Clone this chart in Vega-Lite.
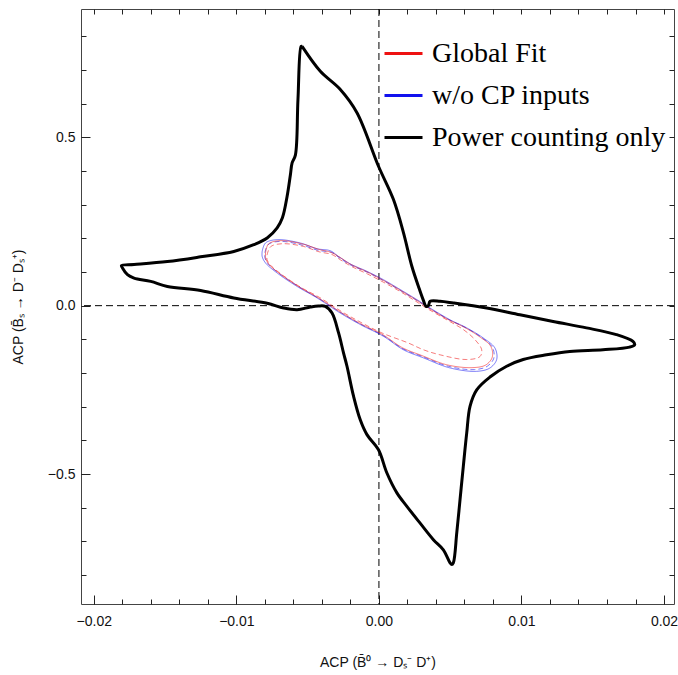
{
  "$schema": "https://vega.github.io/schema/vega-lite/v6.json",
  "width": 593,
  "height": 595,
  "autosize": {"type": "none"},
  "padding": {"left": 81, "top": 9, "right": 4, "bottom": 71},
  "background": "white",
  "config": {
    "view": {"stroke": "#444444", "strokeWidth": 1},
    "axis": {"grid": false, "domain": false, "tickColor": "#222222", "labelFont": "Liberation Sans", "labelFontSize": 14, "labelColor": "#111111", "titleFont": "Liberation Sans", "titleFontSize": 14, "titleFontWeight": "normal", "titleColor": "#111111"}
  },
  "datasets": {
    "pc": [
      {"i":1,"x":-0.00539,"y":0.770,"g":"Power counting only"},
      {"i":2,"x":-0.00411,"y":0.696,"g":"Power counting only"},
      {"i":3,"x":-0.00271,"y":0.642,"g":"Power counting only"},
      {"i":4,"x":-0.00154,"y":0.573,"g":"Power counting only"},
      {"i":5,"x":-0.00003,"y":0.414,"g":"Power counting only"},
      {"i":6,"x":0.00102,"y":0.315,"g":"Power counting only"},
      {"i":7,"x":0.00172,"y":0.217,"g":"Power counting only"},
      {"i":8,"x":0.00231,"y":0.117,"g":"Power counting only"},
      {"i":9,"x":0.00283,"y":0.050,"g":"Power counting only"},
      {"i":10,"x":0.00310,"y":0.018,"g":"Power counting only"},
      {"i":11,"x":0.00331,"y":-0.002,"g":"Power counting only"},
      {"i":12,"x":0.00347,"y":0.000,"g":"Power counting only"},
      {"i":13,"x":0.00359,"y":0.013,"g":"Power counting only"},
      {"i":14,"x":0.00429,"y":0.013,"g":"Power counting only"},
      {"i":15,"x":0.00522,"y":0.008,"g":"Power counting only"},
      {"i":16,"x":0.00756,"y":-0.007,"g":"Power counting only"},
      {"i":17,"x":0.00989,"y":-0.027,"g":"Power counting only"},
      {"i":18,"x":0.01222,"y":-0.047,"g":"Power counting only"},
      {"i":19,"x":0.01456,"y":-0.066,"g":"Power counting only"},
      {"i":20,"x":0.01666,"y":-0.086,"g":"Power counting only"},
      {"i":21,"x":0.01782,"y":-0.106,"g":"Power counting only"},
      {"i":22,"x":0.01794,"y":-0.116,"g":"Power counting only"},
      {"i":23,"x":0.01759,"y":-0.123,"g":"Power counting only"},
      {"i":24,"x":0.01572,"y":-0.131,"g":"Power counting only"},
      {"i":25,"x":0.01339,"y":-0.136,"g":"Power counting only"},
      {"i":26,"x":0.01176,"y":-0.146,"g":"Power counting only"},
      {"i":27,"x":0.01012,"y":-0.160,"g":"Power counting only"},
      {"i":28,"x":0.00896,"y":-0.180,"g":"Power counting only"},
      {"i":29,"x":0.00779,"y":-0.212,"g":"Power counting only"},
      {"i":30,"x":0.00686,"y":-0.250,"g":"Power counting only"},
      {"i":31,"x":0.00639,"y":-0.299,"g":"Power counting only"},
      {"i":32,"x":0.00616,"y":-0.378,"g":"Power counting only"},
      {"i":33,"x":0.00592,"y":-0.477,"g":"Power counting only"},
      {"i":34,"x":0.00569,"y":-0.576,"g":"Power counting only"},
      {"i":35,"x":0.00546,"y":-0.675,"g":"Power counting only"},
      {"i":36,"x":0.00522,"y":-0.764,"g":"Power counting only"},
      {"i":37,"x":0.00511,"y":-0.769,"g":"Power counting only"},
      {"i":38,"x":0.00499,"y":-0.764,"g":"Power counting only"},
      {"i":39,"x":0.00452,"y":-0.725,"g":"Power counting only"},
      {"i":40,"x":0.00382,"y":-0.695,"g":"Power counting only"},
      {"i":41,"x":0.00289,"y":-0.646,"g":"Power counting only"},
      {"i":42,"x":0.00196,"y":-0.596,"g":"Power counting only"},
      {"i":43,"x":0.00126,"y":-0.556,"g":"Power counting only"},
      {"i":44,"x":0.00056,"y":-0.497,"g":"Power counting only"},
      {"i":45,"x":-0.00003,"y":-0.428,"g":"Power counting only"},
      {"i":46,"x":-0.00084,"y":-0.383,"g":"Power counting only"},
      {"i":47,"x":-0.00131,"y":-0.339,"g":"Power counting only"},
      {"i":48,"x":-0.00178,"y":-0.269,"g":"Power counting only"},
      {"i":49,"x":-0.00224,"y":-0.180,"g":"Power counting only"},
      {"i":50,"x":-0.00248,"y":-0.141,"g":"Power counting only"},
      {"i":51,"x":-0.00283,"y":-0.081,"g":"Power counting only"},
      {"i":52,"x":-0.00329,"y":-0.022,"g":"Power counting only"},
      {"i":53,"x":-0.00376,"y":-0.002,"g":"Power counting only"},
      {"i":54,"x":-0.00425,"y":-0.001,"g":"Power counting only"},
      {"i":55,"x":-0.00481,"y":-0.004,"g":"Power counting only"},
      {"i":56,"x":-0.00574,"y":-0.012,"g":"Power counting only"},
      {"i":57,"x":-0.00668,"y":-0.007,"g":"Power counting only"},
      {"i":58,"x":-0.00784,"y":0.007,"g":"Power counting only"},
      {"i":59,"x":-0.01018,"y":0.023,"g":"Power counting only"},
      {"i":60,"x":-0.01251,"y":0.045,"g":"Power counting only"},
      {"i":61,"x":-0.01484,"y":0.057,"g":"Power counting only"},
      {"i":62,"x":-0.01601,"y":0.072,"g":"Power counting only"},
      {"i":63,"x":-0.01718,"y":0.082,"g":"Power counting only"},
      {"i":64,"x":-0.01764,"y":0.092,"g":"Power counting only"},
      {"i":65,"x":-0.01799,"y":0.112,"g":"Power counting only"},
      {"i":66,"x":-0.01806,"y":0.119,"g":"Power counting only"},
      {"i":67,"x":-0.01718,"y":0.122,"g":"Power counting only"},
      {"i":68,"x":-0.01484,"y":0.131,"g":"Power counting only"},
      {"i":69,"x":-0.01251,"y":0.145,"g":"Power counting only"},
      {"i":70,"x":-0.01018,"y":0.161,"g":"Power counting only"},
      {"i":71,"x":-0.00878,"y":0.181,"g":"Power counting only"},
      {"i":72,"x":-0.00784,"y":0.201,"g":"Power counting only"},
      {"i":73,"x":-0.00714,"y":0.231,"g":"Power counting only"},
      {"i":74,"x":-0.00677,"y":0.261,"g":"Power counting only"},
      {"i":75,"x":-0.00644,"y":0.325,"g":"Power counting only"},
      {"i":76,"x":-0.00621,"y":0.389,"g":"Power counting only"},
      {"i":77,"x":-0.00609,"y":0.424,"g":"Power counting only"},
      {"i":78,"x":-0.00586,"y":0.447,"g":"Power counting only"},
      {"i":79,"x":-0.00568,"y":0.612,"g":"Power counting only"},
      {"i":80,"x":-0.00546,"y":0.770,"g":"Power counting only"},
      {"i":81,"x":-0.00539,"y":0.770,"g":"Power counting only"}
    ],
    "ell": [
      {"s":"ws","g":"w/o CP inputs","d":"solid","i":1,"x":-0.00819,"y":0.161},
      {"s":"ws","g":"w/o CP inputs","d":"solid","i":2,"x":-0.00796,"y":0.186},
      {"s":"ws","g":"w/o CP inputs","d":"solid","i":3,"x":-0.00714,"y":0.196},
      {"s":"ws","g":"w/o CP inputs","d":"solid","i":4,"x":-0.00551,"y":0.186},
      {"s":"ws","g":"w/o CP inputs","d":"solid","i":5,"x":-0.00434,"y":0.169},
      {"s":"ws","g":"w/o CP inputs","d":"solid","i":6,"x":-0.00341,"y":0.163},
      {"s":"ws","g":"w/o CP inputs","d":"solid","i":7,"x":-0.00283,"y":0.146},
      {"s":"ws","g":"w/o CP inputs","d":"solid","i":8,"x":-0.00201,"y":0.124},
      {"s":"ws","g":"w/o CP inputs","d":"solid","i":9,"x":-0.00084,"y":0.102},
      {"s":"ws","g":"w/o CP inputs","d":"solid","i":10,"x":0.00032,"y":0.077},
      {"s":"ws","g":"w/o CP inputs","d":"solid","i":11,"x":0.00149,"y":0.048},
      {"s":"ws","g":"w/o CP inputs","d":"solid","i":12,"x":0.00266,"y":0.018},
      {"s":"ws","g":"w/o CP inputs","d":"solid","i":13,"x":0.00359,"y":-0.007},
      {"s":"ws","g":"w/o CP inputs","d":"solid","i":14,"x":0.00499,"y":-0.042},
      {"s":"ws","g":"w/o CP inputs","d":"solid","i":15,"x":0.00616,"y":-0.066},
      {"s":"ws","g":"w/o CP inputs","d":"solid","i":16,"x":0.00732,"y":-0.096},
      {"s":"ws","g":"w/o CP inputs","d":"solid","i":17,"x":0.00814,"y":-0.126},
      {"s":"ws","g":"w/o CP inputs","d":"solid","i":18,"x":0.00826,"y":-0.160},
      {"s":"ws","g":"w/o CP inputs","d":"solid","i":19,"x":0.00779,"y":-0.185},
      {"s":"ws","g":"w/o CP inputs","d":"solid","i":20,"x":0.00686,"y":-0.195},
      {"s":"ws","g":"w/o CP inputs","d":"solid","i":21,"x":0.00499,"y":-0.185},
      {"s":"ws","g":"w/o CP inputs","d":"solid","i":22,"x":0.00312,"y":-0.155},
      {"s":"ws","g":"w/o CP inputs","d":"solid","i":23,"x":0.00172,"y":-0.131},
      {"s":"ws","g":"w/o CP inputs","d":"solid","i":24,"x":0.00032,"y":-0.091},
      {"s":"ws","g":"w/o CP inputs","d":"solid","i":25,"x":-0.00131,"y":-0.056},
      {"s":"ws","g":"w/o CP inputs","d":"solid","i":26,"x":-0.00271,"y":-0.022},
      {"s":"ws","g":"w/o CP inputs","d":"solid","i":27,"x":-0.00434,"y":0.023},
      {"s":"ws","g":"w/o CP inputs","d":"solid","i":28,"x":-0.00574,"y":0.057},
      {"s":"ws","g":"w/o CP inputs","d":"solid","i":29,"x":-0.00714,"y":0.097},
      {"s":"ws","g":"w/o CP inputs","d":"solid","i":30,"x":-0.00796,"y":0.127},
      {"s":"ws","g":"w/o CP inputs","d":"solid","i":31,"x":-0.00819,"y":0.146},
      {"s":"ws","g":"w/o CP inputs","d":"solid","i":32,"x":-0.00819,"y":0.161},
      {"s":"wd","g":"w/o CP inputs","d":"dashed","i":1,"x":-0.00800,"y":0.157},
      {"s":"wd","g":"w/o CP inputs","d":"dashed","i":2,"x":-0.00778,"y":0.181},
      {"s":"wd","g":"w/o CP inputs","d":"dashed","i":3,"x":-0.00697,"y":0.191},
      {"s":"wd","g":"w/o CP inputs","d":"dashed","i":4,"x":-0.00540,"y":0.180},
      {"s":"wd","g":"w/o CP inputs","d":"dashed","i":5,"x":-0.00425,"y":0.164},
      {"s":"wd","g":"w/o CP inputs","d":"dashed","i":6,"x":-0.00330,"y":0.158},
      {"s":"wd","g":"w/o CP inputs","d":"dashed","i":7,"x":-0.00275,"y":0.141},
      {"s":"wd","g":"w/o CP inputs","d":"dashed","i":8,"x":-0.00195,"y":0.120},
      {"s":"wd","g":"w/o CP inputs","d":"dashed","i":9,"x":-0.00080,"y":0.099},
      {"s":"wd","g":"w/o CP inputs","d":"dashed","i":10,"x":0.00033,"y":0.074},
      {"s":"wd","g":"w/o CP inputs","d":"dashed","i":11,"x":0.00146,"y":0.046},
      {"s":"wd","g":"w/o CP inputs","d":"dashed","i":12,"x":0.00260,"y":0.017},
      {"s":"wd","g":"w/o CP inputs","d":"dashed","i":13,"x":0.00352,"y":-0.007},
      {"s":"wd","g":"w/o CP inputs","d":"dashed","i":14,"x":0.00488,"y":-0.041},
      {"s":"wd","g":"w/o CP inputs","d":"dashed","i":15,"x":0.00602,"y":-0.064},
      {"s":"wd","g":"w/o CP inputs","d":"dashed","i":16,"x":0.00715,"y":-0.093},
      {"s":"wd","g":"w/o CP inputs","d":"dashed","i":17,"x":0.00795,"y":-0.123},
      {"s":"wd","g":"w/o CP inputs","d":"dashed","i":18,"x":0.00806,"y":-0.156},
      {"s":"wd","g":"w/o CP inputs","d":"dashed","i":19,"x":0.00760,"y":-0.180},
      {"s":"wd","g":"w/o CP inputs","d":"dashed","i":20,"x":0.00670,"y":-0.190},
      {"s":"wd","g":"w/o CP inputs","d":"dashed","i":21,"x":0.00487,"y":-0.180},
      {"s":"wd","g":"w/o CP inputs","d":"dashed","i":22,"x":0.00305,"y":-0.151},
      {"s":"wd","g":"w/o CP inputs","d":"dashed","i":23,"x":0.00168,"y":-0.128},
      {"s":"wd","g":"w/o CP inputs","d":"dashed","i":24,"x":0.00031,"y":-0.089},
      {"s":"wd","g":"w/o CP inputs","d":"dashed","i":25,"x":-0.00128,"y":-0.055},
      {"s":"wd","g":"w/o CP inputs","d":"dashed","i":26,"x":-0.00265,"y":-0.021},
      {"s":"wd","g":"w/o CP inputs","d":"dashed","i":27,"x":-0.00424,"y":0.022},
      {"s":"wd","g":"w/o CP inputs","d":"dashed","i":28,"x":-0.00560,"y":0.056},
      {"s":"wd","g":"w/o CP inputs","d":"dashed","i":29,"x":-0.00697,"y":0.095},
      {"s":"wd","g":"w/o CP inputs","d":"dashed","i":30,"x":-0.00777,"y":0.124},
      {"s":"wd","g":"w/o CP inputs","d":"dashed","i":31,"x":-0.00800,"y":0.142},
      {"s":"wd","g":"w/o CP inputs","d":"dashed","i":32,"x":-0.00800,"y":0.157},
      {"s":"gs","g":"Global Fit","d":"solid","i":1,"x":-0.00795,"y":0.158},
      {"s":"gs","g":"Global Fit","d":"solid","i":2,"x":-0.00775,"y":0.183},
      {"s":"gs","g":"Global Fit","d":"solid","i":3,"x":-0.00695,"y":0.193},
      {"s":"gs","g":"Global Fit","d":"solid","i":4,"x":-0.00535,"y":0.183},
      {"s":"gs","g":"Global Fit","d":"solid","i":5,"x":-0.00420,"y":0.167},
      {"s":"gs","g":"Global Fit","d":"solid","i":6,"x":-0.00335,"y":0.158},
      {"s":"gs","g":"Global Fit","d":"solid","i":7,"x":-0.00272,"y":0.143},
      {"s":"gs","g":"Global Fit","d":"solid","i":8,"x":-0.00195,"y":0.122},
      {"s":"gs","g":"Global Fit","d":"solid","i":9,"x":-0.00082,"y":0.100},
      {"s":"gs","g":"Global Fit","d":"solid","i":10,"x":0.00031,"y":0.075},
      {"s":"gs","g":"Global Fit","d":"solid","i":11,"x":0.00145,"y":0.047},
      {"s":"gs","g":"Global Fit","d":"solid","i":12,"x":0.00258,"y":0.018},
      {"s":"gs","g":"Global Fit","d":"solid","i":13,"x":0.00349,"y":-0.007},
      {"s":"gs","g":"Global Fit","d":"solid","i":14,"x":0.00485,"y":-0.041},
      {"s":"gs","g":"Global Fit","d":"solid","i":15,"x":0.00598,"y":-0.064},
      {"s":"gs","g":"Global Fit","d":"solid","i":16,"x":0.00705,"y":-0.092},
      {"s":"gs","g":"Global Fit","d":"solid","i":17,"x":0.00785,"y":-0.121},
      {"s":"gs","g":"Global Fit","d":"solid","i":18,"x":0.00795,"y":-0.153},
      {"s":"gs","g":"Global Fit","d":"solid","i":19,"x":0.00750,"y":-0.176},
      {"s":"gs","g":"Global Fit","d":"solid","i":20,"x":0.00660,"y":-0.184},
      {"s":"gs","g":"Global Fit","d":"solid","i":21,"x":0.00480,"y":-0.176},
      {"s":"gs","g":"Global Fit","d":"solid","i":22,"x":0.00300,"y":-0.148},
      {"s":"gs","g":"Global Fit","d":"solid","i":23,"x":0.00165,"y":-0.125},
      {"s":"gs","g":"Global Fit","d":"solid","i":24,"x":0.00030,"y":-0.087},
      {"s":"gs","g":"Global Fit","d":"solid","i":25,"x":-0.00127,"y":-0.054},
      {"s":"gs","g":"Global Fit","d":"solid","i":26,"x":-0.00263,"y":-0.021},
      {"s":"gs","g":"Global Fit","d":"solid","i":27,"x":-0.00421,"y":0.022},
      {"s":"gs","g":"Global Fit","d":"solid","i":28,"x":-0.00557,"y":0.055},
      {"s":"gs","g":"Global Fit","d":"solid","i":29,"x":-0.00693,"y":0.094},
      {"s":"gs","g":"Global Fit","d":"solid","i":30,"x":-0.00772,"y":0.123},
      {"s":"gs","g":"Global Fit","d":"solid","i":31,"x":-0.00795,"y":0.142},
      {"s":"gs","g":"Global Fit","d":"solid","i":32,"x":-0.00795,"y":0.158},
      {"s":"gd","g":"Global Fit","d":"dashed","i":1,"x":-0.00785,"y":0.150},
      {"s":"gd","g":"Global Fit","d":"dashed","i":2,"x":-0.00760,"y":0.175},
      {"s":"gd","g":"Global Fit","d":"dashed","i":3,"x":-0.00680,"y":0.184},
      {"s":"gd","g":"Global Fit","d":"dashed","i":4,"x":-0.00530,"y":0.176},
      {"s":"gd","g":"Global Fit","d":"dashed","i":5,"x":-0.00420,"y":0.160},
      {"s":"gd","g":"Global Fit","d":"dashed","i":6,"x":-0.00330,"y":0.152},
      {"s":"gd","g":"Global Fit","d":"dashed","i":7,"x":-0.00270,"y":0.136},
      {"s":"gd","g":"Global Fit","d":"dashed","i":8,"x":-0.00190,"y":0.116},
      {"s":"gd","g":"Global Fit","d":"dashed","i":9,"x":-0.00080,"y":0.094},
      {"s":"gd","g":"Global Fit","d":"dashed","i":10,"x":0.00030,"y":0.070},
      {"s":"gd","g":"Global Fit","d":"dashed","i":11,"x":0.00145,"y":0.043},
      {"s":"gd","g":"Global Fit","d":"dashed","i":12,"x":0.00255,"y":0.014},
      {"s":"gd","g":"Global Fit","d":"dashed","i":13,"x":0.00345,"y":-0.010},
      {"s":"gd","g":"Global Fit","d":"dashed","i":14,"x":0.00480,"y":-0.043},
      {"s":"gd","g":"Global Fit","d":"dashed","i":15,"x":0.00592,"y":-0.071},
      {"s":"gd","g":"Global Fit","d":"dashed","i":16,"x":0.00674,"y":-0.101},
      {"s":"gd","g":"Global Fit","d":"dashed","i":17,"x":0.00721,"y":-0.131},
      {"s":"gd","g":"Global Fit","d":"dashed","i":18,"x":0.00709,"y":-0.151},
      {"s":"gd","g":"Global Fit","d":"dashed","i":19,"x":0.00616,"y":-0.160},
      {"s":"gd","g":"Global Fit","d":"dashed","i":20,"x":0.00429,"y":-0.146},
      {"s":"gd","g":"Global Fit","d":"dashed","i":21,"x":0.00312,"y":-0.131},
      {"s":"gd","g":"Global Fit","d":"dashed","i":22,"x":0.00207,"y":-0.111},
      {"s":"gd","g":"Global Fit","d":"dashed","i":23,"x":0.00021,"y":-0.081},
      {"s":"gd","g":"Global Fit","d":"dashed","i":24,"x":-0.00125,"y":-0.050},
      {"s":"gd","g":"Global Fit","d":"dashed","i":25,"x":-0.00260,"y":-0.018},
      {"s":"gd","g":"Global Fit","d":"dashed","i":26,"x":-0.00415,"y":0.024},
      {"s":"gd","g":"Global Fit","d":"dashed","i":27,"x":-0.00550,"y":0.055},
      {"s":"gd","g":"Global Fit","d":"dashed","i":28,"x":-0.00680,"y":0.092},
      {"s":"gd","g":"Global Fit","d":"dashed","i":29,"x":-0.00760,"y":0.120},
      {"s":"gd","g":"Global Fit","d":"dashed","i":30,"x":-0.00785,"y":0.137},
      {"s":"gd","g":"Global Fit","d":"dashed","i":31,"x":-0.00785,"y":0.150}
    ]
  },
  "resolve": {"scale": {"x": "shared", "y": "shared", "color": "shared"}, "axis": {"x": "independent", "y": "independent"}},
  "layer": [
    {
      "data": {"values": [{}]},
      "mark": {"type": "rule", "color": "#000000", "strokeWidth": 1, "strokeDash": [7, 4]},
      "encoding": {
        "x": {"datum": 0, "type": "quantitative", "scale": {"domain": [-0.0209, 0.0207], "nice": false, "zero": false},
              "axis": {"orient": "top", "values": [-0.02,-0.018,-0.016,-0.014,-0.012,-0.01,-0.008,-0.006,-0.004,-0.002,0,0.002,0.004,0.006,0.008,0.01,0.012,0.014,0.016,0.018,0.02], "tickSize": -5, "labels": false, "title": null}}
      }
    },
    {
      "data": {"values": [{}]},
      "mark": {"type": "rule", "color": "#000000", "strokeWidth": 1, "strokeDash": [7, 4]},
      "encoding": {
        "y": {"datum": 0, "type": "quantitative", "scale": {"domain": [-0.886, 0.881], "nice": false, "zero": false},
              "axis": {"orient": "right", "values": [-0.8,-0.7,-0.6,-0.5,-0.4,-0.3,-0.2,-0.1,0,0.1,0.2,0.3,0.4,0.5,0.6,0.7,0.8], "tickSize": -5, "labels": false, "title": null}}
      }
    },
    {
      "data": {"name": "ell"},
      "mark": {"type": "line", "strokeWidth": 1, "opacity": 0.55, "interpolate": "catmull-rom"},
      "encoding": {
        "x": {"field": "x", "type": "quantitative", "scale": {"domain": [-0.0209, 0.0207], "nice": false, "zero": false},
              "axis": {"orient": "bottom", "values": [-0.02,-0.018,-0.016,-0.014,-0.012,-0.01,-0.008,-0.006,-0.004,-0.002,0,0.002,0.004,0.006,0.008,0.01,0.012,0.014,0.016,0.018,0.02], "tickSize": -5, "labels": false, "title": null}},
        "y": {"field": "y", "type": "quantitative", "scale": {"domain": [-0.886, 0.881], "nice": false, "zero": false},
              "axis": {"orient": "left", "values": [-0.8,-0.7,-0.6,-0.5,-0.4,-0.3,-0.2,-0.1,0,0.1,0.2,0.3,0.4,0.5,0.6,0.7,0.8], "tickSize": -5, "labels": false, "title": null}},
        "color": {"field": "g", "type": "nominal",
                  "scale": {"domain": ["Global Fit", "w/o CP inputs", "Power counting only"], "range": ["#ee1111", "#1111ee", "#000000"]},
                  "legend": {"title": null, "orient": "none", "legendX": 302, "legendY": 24, "symbolType": "stroke", "symbolSize": 1444, "symbolStrokeWidth": 3, "symbolOpacity": 1, "labelFont": "Liberation Serif", "labelFontSize": 28, "labelColor": "#000000", "labelOffset": 8, "rowPadding": 7, "padding": 0, "labelLimit": 400}},
        "strokeDash": {"field": "d", "type": "nominal", "scale": {"domain": ["solid", "dashed"], "range": [[1, 0], [5, 3]]}, "legend": null},
        "detail": {"field": "s"},
        "order": {"field": "i", "type": "quantitative"}
      }
    },
    {
      "data": {"name": "pc"},
      "mark": {"type": "line", "strokeWidth": 3, "strokeJoin": "round", "interpolate": "catmull-rom"},
      "encoding": {
        "x": {"field": "x", "type": "quantitative", "scale": {"domain": [-0.0209, 0.0207], "nice": false, "zero": false},
              "axis": {"orient": "bottom", "values": [-0.02, -0.01, 0, 0.01, 0.02], "format": ".2f", "tickSize": -9, "labelPadding": 19, "title": "ACP (B̄⁰ → Dₛ⁻ D⁺)", "titlePadding": 27}},
        "y": {"field": "y", "type": "quantitative", "scale": {"domain": [-0.886, 0.881], "nice": false, "zero": false},
              "axis": {"orient": "left", "values": [-0.5, 0, 0.5], "format": ".1f", "tickSize": -9, "labelPadding": 15, "title": "ACP (B̄ₛ → D⁻ Dₛ⁺)", "titlePadding": 22}},
        "color": {"field": "g", "type": "nominal", "scale": {"domain": ["Global Fit", "w/o CP inputs", "Power counting only"], "range": ["#ee1111", "#1111ee", "#000000"]}},
        "order": {"field": "i", "type": "quantitative"}
      }
    }
  ]
}
